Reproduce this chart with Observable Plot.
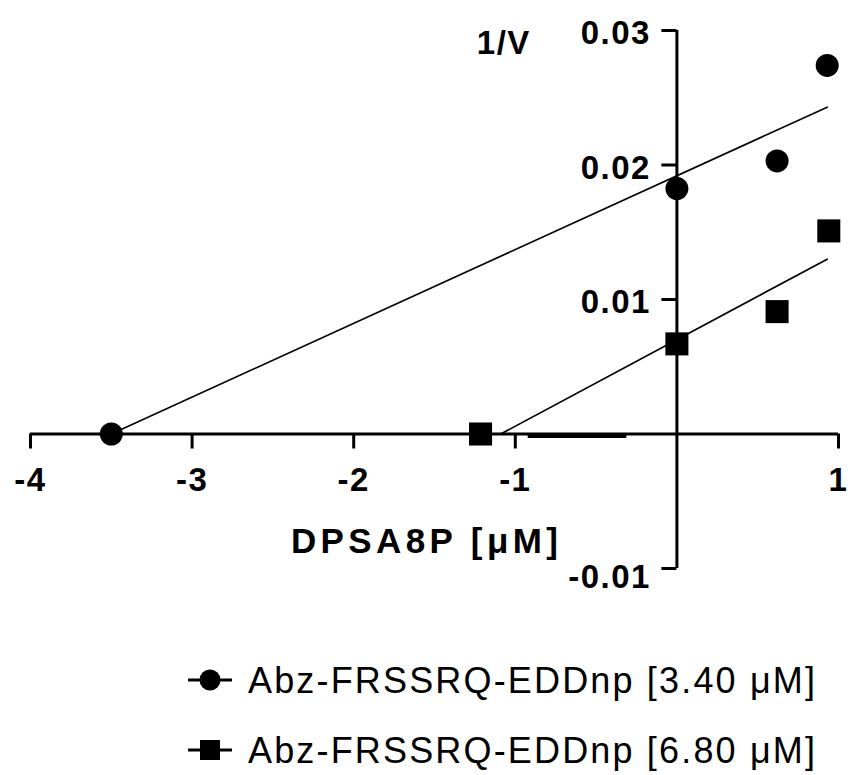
<!DOCTYPE html>
<html>
<head>
<meta charset="utf-8">
<script src="https://cdn.jsdelivr.net/npm/d3@7"></script>
<script src="https://cdn.jsdelivr.net/npm/@observablehq/plot@0.6"></script>
<style>
  body { margin: 0; background: #fff; }
  #wrap { position: relative; width: 860px; height: 775px; overflow: hidden; font-family: "Liberation Sans", Arial, sans-serif; }
  #legend { position: absolute; left: 0; top: 610px; }
</style>
</head>
<body>
<div id="wrap"></div>
<script>
// ---- data ----
const seriesNames = ["Abz-FRSSRQ-EDDnp [3.40 μM]", "Abz-FRSSRQ-EDDnp [6.80 μM]"];
const seriesSymbols = ["circle", "square"];

const circleX = [-3.5, 0, 0.62, 0.93];
const circleY = [0, 0.01825, 0.0203, 0.0274];
const squareX = [-1.215, 0, 0.62, 0.94];
const squareY = [0, 0.0067, 0.0091, 0.0151];

const fit1X = [-3.5, 0.93];
const fit1Y = [0, 0.0243];
const fit2X = [-1.09, 0.93];
const fit2Y = [0, 0.0130];

// stray heavy segment on the baseline in the reference
const baselineSegX = [-0.92, -0.31];

const xTicks = [-4, -3, -2, -1, 1];
const xTickLabels = ["-4", "-3", "-2", "-1", "1"];
const yTicks = [0.01, 0.02, 0.03];
const yTickLabels = ["0.01", "0.02", "0.03"];
const yNegTicks = [-0.01];
const yNegTickLabels = ["-0.01"];
const xLabel = "DPSA8P [μM]";
const yLabel = "1/V";

// ---- tables ----
const circles = circleX.map((x, i) => ({x, y: circleY[i]}));
const squares = squareX.map((x, i) => ({x, y: squareY[i]}));
const fit1 = fit1X.map((x, i) => ({x, y: fit1Y[i]}));
const fit2 = fit2X.map((x, i) => ({x, y: fit2Y[i]}));

const font = "Liberation Sans, Arial, Helvetica, sans-serif";
const allTickLabels = xTickLabels.concat(yTickLabels, yNegTickLabels);

const plot = Plot.plot({
  width: 860,
  height: 610,
  marginLeft: 30,
  marginRight: 22,
  marginTop: 30,
  marginBottom: 42,
  x: {domain: [-4, 1], axis: null},
  y: {domain: [-0.01, 0.03], axis: null},
  style: {fontFamily: font, background: "white", overflow: "visible", color: "black"},
  marks: [
    // fit lines
    Plot.line(fit1, {x: "x", y: "y", stroke: "black", strokeWidth: 1.7}),
    Plot.line(fit2, {x: "x", y: "y", stroke: "black", strokeWidth: 1.7}),
    // axes through the origin
    Plot.ruleY([0], {x1: -4, x2: 1, stroke: "black", strokeWidth: 3}),
    Plot.ruleX([0], {y1: -0.01, y2: 0.03, stroke: "black", strokeWidth: 3}),
    Plot.ruleY([0], {x1: baselineSegX[0], x2: baselineSegX[1], stroke: "black", strokeWidth: 4, dy: 2}),
    // ticks
    Plot.ruleX(xTicks, {x: d => d, y1: 0, y2: 0, insetBottom: -15, stroke: "black", strokeWidth: 3}),
    Plot.ruleY(yTicks.concat(yNegTicks), {y: d => d, x1: 0, x2: 0, insetLeft: -15, stroke: "black", strokeWidth: 3}),
    // tick labels
    Plot.text(xTicks, {x: d => d, y: 0, text: (d, i) => xTickLabels[i], dy: 46, fontSize: 33, fontWeight: "bold", fill: "black"}),
    Plot.text(yTicks, {x: 0, y: d => d, text: (d, i) => yTickLabels[i], dx: -26, dy: 3, textAnchor: "end", fontSize: 33, fontWeight: "bold", fill: "black"}),
    Plot.text(yNegTicks, {x: 0, y: d => d, text: (d, i) => yNegTickLabels[i], dx: -26, dy: 9, textAnchor: "end", fontSize: 33, fontWeight: "bold", fill: "black"}),
    // axis titles
    Plot.text([xLabel], {x: 0, y: 0, text: d => d, dx: -119, dy: 108, textAnchor: "end", fontSize: 35, fontWeight: "bold", fill: "black"}),
    Plot.text([yLabel], {x: 0, y: 0.03, text: d => d, dx: -146, dy: 13, textAnchor: "end", fontSize: 33, fontWeight: "bold", fill: "black"}),
    // data points
    Plot.dot(circles, {x: "x", y: "y", r: 11.5, fill: "black", stroke: "none", symbol: "circle"}),
    Plot.dot(squares, {x: "x", y: "y", r: 13, fill: "black", stroke: "none", symbol: "square"})
  ]
});

const wrap = document.getElementById("wrap");
wrap.appendChild(plot);

// stretch text horizontally like the reference
const sel = d3.select(plot);
sel.selectAll("text").each(function() {
  const t = this.textContent;
  if (t === xLabel) {
    this.setAttribute("textLength", 267);
    this.setAttribute("lengthAdjust", "spacing");
  } else if (allTickLabels.includes(t) || t === yLabel) {
    this.setAttribute("letter-spacing", "1.5");
  }
});

// ---- legend (below the plot) ----
const legend = d3.create("svg")
  .attr("id", "legend")
  .attr("width", 860)
  .attr("height", 165)
  .style("font-family", font);
const rowBaselines = [693 - 610, 763 - 610];
seriesNames.forEach((name, i) => {
  const cy = rowBaselines[i] - 13;
  const g = legend.append("g");
  g.append("line").attr("x1", 188).attr("x2", 232).attr("y1", cy).attr("y2", cy)
    .attr("stroke", "black").attr("stroke-width", 3);
  if (seriesSymbols[i] === "circle") {
    g.append("circle").attr("cx", 210).attr("cy", cy).attr("r", 10.5).attr("fill", "black");
  } else {
    g.append("rect").attr("x", 200).attr("y", cy - 10).attr("width", 20).attr("height", 20).attr("fill", "black");
  }
  g.append("text").attr("x", 248).attr("y", rowBaselines[i])
    .attr("font-size", 36).attr("fill", "black")
    .attr("textLength", 567).attr("lengthAdjust", "spacing")
    .text(name);
});
wrap.appendChild(legend.node());
</script>
</body>
</html>
